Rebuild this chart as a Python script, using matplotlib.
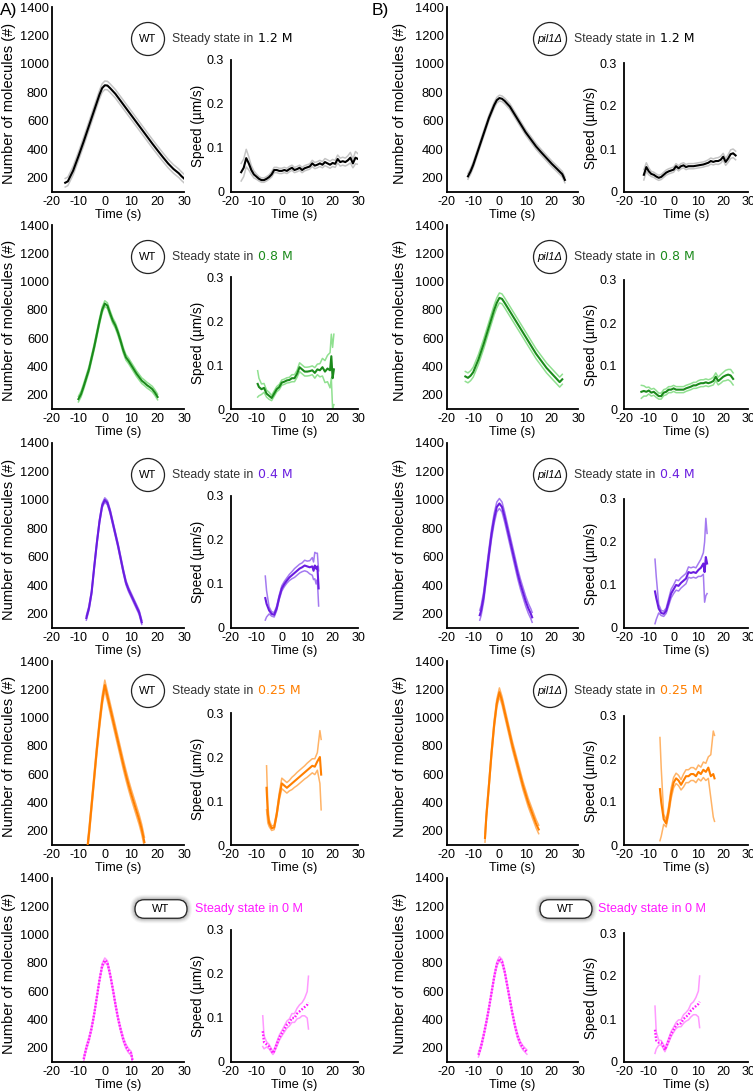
import numpy as np
import matplotlib
matplotlib.use('Agg')
import matplotlib.pyplot as plt
from matplotlib.patches import Circle, FancyBboxPatch

plt.rcParams['font.family'] = ['Liberation Sans', 'DejaVu Sans']
plt.rcParams['axes.unicode_minus'] = False

# ---------------- data ----------------
# WT 1.2 M
wt12_nt = [-15,-14,-12,-10,-8,-6,-4,-2,-1,0,1,2,4,6,8,10,12,14,16,18,20,22,24,26,28,29,30]
wt12_n = [165,175,250,350,455,565,675,785,830,850,848,830,790,740,690,640,590,540,490,440,392,345,300,262,232,212,195]
wt12_nsd = 30
wt12_st = [-16,-15,-14,-13,-12,-11,-10,-9,-8,-7,-6,-5,-4,-3,-2,-1,0,1,2,3,4,5,6,7,8,9,10,11,12,13,14,15,16,17,18,19,20,21,22,23,24,25,26,27,28,29,30]
wt12_s = [0.045,0.055,0.077,0.065,0.05,0.04,0.035,0.03,0.027,0.027,
          0.03,0.034,0.04,0.05,0.05,0.048,0.048,0.05,0.048,0.052,
          0.055,0.05,0.052,0.055,0.05,0.054,0.056,0.058,0.065,0.06,
          0.062,0.065,0.062,0.068,0.065,0.062,0.066,0.064,0.075,0.068,
          0.07,0.068,0.072,0.078,0.065,0.078,0.075]
wt12_ssd = [0.02,0.02,0.02,0.015,0.01,0.008,0.006,0.005,0.005,0.005,
            0.005,0.005,0.006,0.006,0.006,0.006,0.006,0.006,0.006,0.006,
            0.006,0.006,0.006,0.006,0.006,0.006,0.006,0.006,0.007,0.007,
            0.007,0.007,0.007,0.008,0.008,0.008,0.008,0.008,0.009,0.009,
            0.009,0.009,0.01,0.012,0.01,0.014,0.012]

# pil1 1.2 M
p12_nt = [-12,-11,-10,-8,-6,-4,-2,-1,0,1,2,4,6,8,10,12,14,16,18,20,22,24,25]
p12_n = [210,245,290,400,510,620,710,745,760,755,740,700,640,580,520,470,420,378,338,298,262,225,185]
p12_nsd = 20
p12_st = [-12,-11,-10,-9,-8,-7,-6,-5,-4,-3,-2,-1,0,1,2,3,4,5,6,7,8,9,10,11,12,13,14,15,16,17,18,19,20,21,22,23,24,25]
p12_s = [0.04,0.058,0.048,0.042,0.04,0.036,0.033,0.035,0.04,0.045,
         0.048,0.05,0.052,0.06,0.055,0.06,0.062,0.058,0.06,0.06,
         0.06,0.061,0.062,0.063,0.064,0.066,0.068,0.072,0.07,0.072,
         0.072,0.075,0.082,0.07,0.078,0.088,0.09,0.085]
p12_ssd = [0.012,0.01,0.008,0.006,0.006,0.006,0.006,0.006,0.006,0.006,
           0.006,0.006,0.006,0.006,0.006,0.006,0.006,0.006,0.006,0.006,
           0.006,0.006,0.006,0.006,0.006,0.006,0.007,0.007,0.007,0.007,
           0.008,0.008,0.008,0.008,0.009,0.01,0.01,0.01]

# WT 0.8 M
wt08_nt = [-10,-9,-8,-6,-4,-3,-2,-1,0,1,2,3,4,5,6,7,8,9,10,11,12,13,14,15,16,17,18,19,20]
wt08_n = [170,205,260,380,540,630,720,800,845,830,775,725,690,640,580,515,465,440,410,380,350,325,300,285,268,255,240,215,185]
wt08_nsd = 20
wt08_st = [-9.5,-9,-8,-7,-6,-5,-4,-3,-2,-1,0,1,2,3,4,5,6,7,8,9,10,11,12,13,14,15,16,17,18,19,19.5,20,20.5]
wt08_s = [0.057,0.05,0.045,0.048,0.035,0.03,0.025,0.035,0.045,0.05,
          0.06,0.062,0.065,0.066,0.07,0.07,0.08,0.095,0.09,0.085,
          0.085,0.086,0.088,0.082,0.09,0.088,0.095,0.085,0.092,0.088,
          0.12,0.07,0.09]
wt08_ssd = [0.03,0.02,0.012,0.01,0.008,0.008,0.006,0.006,0.006,0.006,
            0.006,0.006,0.006,0.006,0.008,0.008,0.008,0.01,0.01,0.01,
            0.01,0.01,0.01,0.012,0.012,0.015,0.02,0.025,0.03,0.04,
            0.05,0.07,0.08]

# pil1 0.8 M
p08_nt = [-13,-12,-11,-10,-8,-6,-4,-2,-1,0,1,2,4,6,8,10,12,14,16,18,20,22,23,24]
p08_n = [330,320,335,360,450,560,680,800,850,885,878,850,790,730,670,610,550,490,440,390,350,310,290,310]
p08_nsd = 35
p08_st = [-13,-12,-11,-10,-9,-8,-7,-6,-5,-4,-3,-2,-1,0,1,2,3,4,5,6,7,8,9,10,11,12,13,14,15,16,17,18,19,20,21,22,23,24]
p08_s = [0.04,0.042,0.04,0.043,0.038,0.04,0.035,0.03,0.03,0.038,
         0.04,0.045,0.045,0.048,0.045,0.045,0.045,0.045,0.048,0.05,
         0.052,0.055,0.055,0.058,0.06,0.06,0.062,0.06,0.062,0.065,
         0.075,0.065,0.07,0.075,0.078,0.08,0.078,0.07]
p08_ssd = [0.015,0.012,0.01,0.008,0.008,0.008,0.008,0.007,0.007,0.007,
           0.007,0.007,0.007,0.007,0.007,0.007,0.007,0.007,0.007,0.007,
           0.007,0.007,0.007,0.008,0.008,0.008,0.008,0.008,0.008,0.009,
           0.009,0.009,0.01,0.01,0.012,0.012,0.014,0.014]

# WT 0.4 M
wt04_nt = [-7,-6,-5,-4,-3,-2,-1,0,1,2,3,4,5,6,7,8,9,10,11,12,13,14]
wt04_n = [170,240,350,530,700,850,960,1000,980,920,840,760,680,590,500,420,370,330,290,250,210,140]
wt04_nsd = 15
wt04_st = [-6.5,-6,-5,-4,-3,-2,-1,0,1,2,3,4,5,6,7,8,9,10,11,12,12.5,13,13.5,14,14.5]
wt04_s = [0.068,0.055,0.04,0.032,0.03,0.045,0.07,0.09,0.1,0.108,
          0.115,0.12,0.125,0.13,0.135,0.138,0.142,0.14,0.138,0.14,
          0.13,0.142,0.135,0.14,0.09]
wt04_ssd = [0.05,0.03,0.008,0.005,0.005,0.005,0.005,0.006,0.006,0.006,
            0.007,0.008,0.01,0.01,0.01,0.01,0.012,0.012,0.015,0.02,
            0.02,0.03,0.035,0.03,0.04]

# pil1 0.4 M
p04_nt = [-7.5,-7,-6,-5,-4,-3,-2,-1,0,1,2,3,4,5,6,7,8,9,10,11,12,12.5]
p04_n = [190,220,320,470,620,760,870,950,975,950,880,800,720,640,560,480,410,350,290,240,200,175]
p04_nsd = 35
p04_st = [-7.5,-7,-6,-5,-4,-3,-2,-1,0,1,2,3,4,5,6,7,8,9,10,11,12,12.5,13,13.5]
p04_s = [0.085,0.07,0.045,0.035,0.033,0.04,0.06,0.08,0.09,0.1,
         0.098,0.105,0.11,0.115,0.13,0.128,0.13,0.128,0.135,0.14,
         0.15,0.13,0.165,0.15]
p04_ssd = [0.075,0.05,0.01,0.006,0.006,0.006,0.008,0.01,0.01,0.012,
           0.012,0.012,0.012,0.012,0.012,0.012,0.012,0.012,0.015,0.02,
           0.025,0.07,0.09,0.07]

# WT 0.25 M
wt025_nt = [-6.5,-6,-5,-4,-3,-2,-1,0,1,2,3,4,5,6,7,8,9,10,11,12,13,14,15]
wt025_n = [100,180,380,580,780,960,1120,1230,1150,1070,990,910,830,750,670,595,525,460,400,340,280,210,120]
wt025_nsd = 35
wt025_st = [-6,-5.5,-5,-4,-3,-2,-1,0,1,2,3,4,5,6,7,8,9,10,11,12,13,14,15,15.5]
wt025_s = [0.13,0.07,0.05,0.038,0.04,0.07,0.11,0.14,0.135,0.13,
           0.135,0.14,0.145,0.15,0.155,0.16,0.165,0.17,0.175,0.18,
           0.178,0.19,0.2,0.16]
wt025_ssd = [0.05,0.02,0.008,0.005,0.005,0.006,0.008,0.012,0.012,0.012,
             0.012,0.014,0.014,0.015,0.015,0.015,0.015,0.016,0.016,0.016,
             0.018,0.02,0.06,0.08]

# pil1 0.25 M
p025_nt = [-5.5,-5,-4,-3,-2,-1,0,1,2,3,4,5,6,7,8,9,10,11,12,13,14,15]
p025_n = [150,300,520,750,950,1100,1180,1120,1040,960,880,800,730,660,590,520,460,400,350,300,250,210]
p025_nsd = 30
p025_st = [-5.5,-5,-4,-3,-2,-1,0,1,2,3,4,5,6,7,8,9,10,11,12,13,14,15,16,16.5]
p025_s = [0.13,0.1,0.06,0.05,0.08,0.12,0.145,0.155,0.15,0.14,
          0.15,0.16,0.16,0.165,0.165,0.16,0.17,0.165,0.175,0.17,
          0.18,0.16,0.165,0.155]
p025_ssd = [0.12,0.08,0.012,0.008,0.01,0.012,0.012,0.012,0.012,0.012,
            0.015,0.015,0.015,0.015,0.015,0.015,0.016,0.016,0.018,0.02,
            0.025,0.05,0.1,0.1]

# WT 0 M (A)
wt0_nt = [-8,-7,-6,-5,-4,-3,-2,-1,0,1,2,3,4,5,6,7,8,9,10,10.5]
wt0_n = [120,200,260,340,440,560,680,780,820,800,720,620,510,410,330,260,210,180,160,110]
wt0_nsd = 15
wt0_st = [-7.5,-7,-6,-5,-4,-3.5,-3,-2,-1,0,1,2,3,4,5,6,7,8,9,10,10.5]
wt0_s = [0.07,0.045,0.04,0.035,0.025,0.02,0.025,0.04,0.055,0.065,
         0.075,0.085,0.09,0.1,0.1,0.11,0.115,0.12,0.125,0.13,0.135]
wt0_ssd = [0.035,0.015,0.006,0.005,0.004,0.003,0.004,0.005,0.006,0.006,
           0.007,0.008,0.008,0.01,0.01,0.012,0.015,0.015,0.02,0.03,0.06]

# WT 0 M (B)
wt0b_nt = [-8,-7,-6,-5,-4,-3,-2,-1,0,1,2,3,4,5,6,7,8,9,10,10.5]
wt0b_n = [150,210,290,380,480,590,700,790,830,810,740,640,540,440,350,280,230,200,180,170]
wt0b_nsd = 15
wt0b_st = [-7.5,-7,-6,-5,-4,-3.5,-3,-2,-1,0,1,2,3,4,5,6,7,8,9,10,10.5]
wt0b_s = [0.075,0.05,0.045,0.045,0.035,0.028,0.035,0.05,0.065,0.075,
          0.085,0.09,0.09,0.1,0.105,0.11,0.12,0.125,0.13,0.135,0.14]
wt0b_ssd = [0.055,0.02,0.006,0.005,0.005,0.004,0.004,0.005,0.006,0.006,
            0.007,0.008,0.008,0.01,0.01,0.012,0.015,0.015,0.02,0.03,0.06]

strain_labels = ['WT', 'pil1Δ']
conc_labels = ['1.2 M', '0.8 M', '0.4 M', '0.25 M', '0 M']

# colours (main, light)
colors = [('#000000', '#c4c4c4'),
          ('#1b8a1b', '#90e090'),
          ('#6a1de0', '#a47af0'),
          ('#ff7f00', '#ffb366'),
          ('#ff1aff', '#ff99ff')]

panels = [
    [(wt12_nt, wt12_n, wt12_nsd, wt12_st, wt12_s, wt12_ssd),
     (p12_nt, p12_n, p12_nsd, p12_st, p12_s, p12_ssd)],
    [(wt08_nt, wt08_n, wt08_nsd, wt08_st, wt08_s, wt08_ssd),
     (p08_nt, p08_n, p08_nsd, p08_st, p08_s, p08_ssd)],
    [(wt04_nt, wt04_n, wt04_nsd, wt04_st, wt04_s, wt04_ssd),
     (p04_nt, p04_n, p04_nsd, p04_st, p04_s, p04_ssd)],
    [(wt025_nt, wt025_n, wt025_nsd, wt025_st, wt025_s, wt025_ssd),
     (p025_nt, p025_n, p025_nsd, p025_st, p025_s, p025_ssd)],
    [(wt0_nt, wt0_n, wt0_nsd, wt0_st, wt0_s, wt0_ssd),
     (wt0b_nt, wt0b_n, wt0b_nsd, wt0b_st, wt0b_s, wt0b_ssd)],
]

# ---------------- layout ----------------
W, H = 753, 1092
fig = plt.figure(figsize=(W / 100, H / 100), dpi=100)

n_cols_x = [(52, 184), (447, 578)]
s_cols_x = [(231, 358), (624, 748)]
n_tops = [7, 225, 443, 661, 878]
s_tops = [60, 277, 496, 713, 930]
bottoms = [192, 409, 628, 845, 1062]
circ_y = [39, 257, 475, 691, 909]
circ_x = [148, 550]
text_x = [172, 574]


def add_ax(x0, x1, y0, y1):
    return fig.add_axes([x0 / W, 1 - y1 / H, (x1 - x0) / W, (y1 - y0) / H])


def style(ax, hpx, ylabel, yfs, ylab_off, wpx, ytick_fs, ypad, ylab_y=0.5):
    for sp in ['top', 'right']:
        ax.spines[sp].set_visible(False)
    for sp in ['left', 'bottom']:
        ax.spines[sp].set_linewidth(1.3)
    ax.tick_params(length=0)
    ax.tick_params(axis='x', pad=3, labelsize=9)
    ax.tick_params(axis='y', pad=ypad, labelsize=ytick_fs)
    ax.set_xlim(-20, 30)
    ax.set_xticks([-20, -10, 0, 10, 20, 30])
    ax.set_xlabel('Time (s)', fontsize=9.2)
    ax.xaxis.set_label_coords(0.5, -17 / hpx)
    ax.set_ylabel(ylabel, fontsize=yfs)
    ax.yaxis.set_label_coords(-ylab_off / wpx, ylab_y)
    ax.patch.set_alpha(0)


def draw(ax, t, m, sd, main, light, dotted):
    k = min(len(t), len(m))
    sd = np.asarray(sd, float)
    if sd.ndim:
        k = min(k, len(sd))
        sd = sd[:k]
    t = np.asarray(t[:k], float)
    m = np.asarray(m[:k], float)
    ax.plot(t, m + sd, color=light, lw=1.1, zorder=2)
    ax.plot(t, m - sd, color=light, lw=1.1, zorder=2)
    if dotted:
        ax.plot(t, m, color=main, lw=1.7, ls=(0, (0.7, 0.7)), zorder=3)
    else:
        ax.plot(t, m, color=main, lw=1.5, zorder=3)


for r in range(5):
    main, light = colors[r]
    for c in range(2):
        nt, n, nsd, st, s, ssd = panels[r][c]
        x0, x1 = n_cols_x[c]
        axn = add_ax(x0, x1, n_tops[r], bottoms[r])
        draw(axn, nt, n, nsd, main, light, r == 4)
        axn.set_ylim(100, 1400)
        axn.set_yticks([200, 400, 600, 800, 1000, 1200, 1400])
        style(axn, bottoms[r] - n_tops[r], 'Number of molecules (#)', 10.5,
              36 if c == 0 else 40, x1 - x0, 9.3, 2.5, 0.48)

        sx0, sx1 = s_cols_x[c]
        st_top = s_tops[r] + (3 if c == 1 else 0)
        axs = add_ax(sx0, sx1, st_top, bottoms[r])
        draw(axs, st, s, ssd, main, light, r == 4)
        axs.set_ylim(0, 0.3)
        axs.set_yticks([0, 0.1, 0.2, 0.3])
        axs.set_yticklabels(['0', '0.1', '0.2', '0.3'])
        style(axs, bottoms[r] - st_top, 'Speed (µm/s)', 9.8, 26, sx1 - sx0, 9, 5)

        # annotation
        cy = circ_y[r]
        if r < 4:
            cx = circ_x[c]
            circ = Circle((cx / 100, (H - cy) / 100), 0.165, transform=fig.dpi_scale_trans,
                          facecolor='white', edgecolor='#222222', lw=0.9)
            fig.add_artist(circ)
            fig.text(cx / W, 1 - cy / H, strain_labels[c], ha='center', va='center',
                     fontsize=8, style='italic' if c == 1 else 'normal')
            t1 = fig.text(text_x[c] / W, 1 - cy / H, 'Steady state in ', ha='left',
                          va='center', fontsize=8.8, color='#333333')
            ann_color = '#000000' if r == 0 else main
            plt.annotate(conc_labels[r], xy=(1, 0.5), xycoords=t1, xytext=(1.0, 0),
                         textcoords='offset points', ha='left', va='center',
                         fontsize=9, color=ann_color, family='DejaVu Sans',
                         annotation_clip=False)
        else:
            cx = [161, 566][c]
            bw, bh = 0.52, 0.185
            for i, a in enumerate([0.06, 0.09, 0.13, 0.18, 0.25]):
                pad = 0.05 - i * 0.01
                sh = FancyBboxPatch(((cx / 100) - bw / 2, (H - cy) / 100 - bh / 2), bw, bh,
                                    boxstyle='round,pad=%f,rounding_size=%f' % (pad, bh / 2 + pad),
                                    transform=fig.dpi_scale_trans, facecolor='#707070',
                                    edgecolor='none', alpha=a)
                fig.add_artist(sh)
            box = FancyBboxPatch(((cx / 100) - bw / 2, (H - cy) / 100 - bh / 2), bw, bh,
                                 boxstyle='round,pad=0,rounding_size=%f' % (bh / 2),
                                 transform=fig.dpi_scale_trans, facecolor='white',
                                 edgecolor='#222222', lw=0.9)
            fig.add_artist(box)
            fig.text(cx / W, 1 - cy / H, 'WT', ha='center', va='center', fontsize=8)
            fig.text([195, 598][c] / W, 1 - cy / H, 'Steady state in 0 M', ha='left',
                     va='center', fontsize=9, color=main)

fig.text(0 / W, 1 - 11 / H, 'A)', fontsize=12.5, ha='left', va='center')
fig.text(372 / W, 1 - 11 / H, 'B)', fontsize=12.5, ha='left', va='center')

fig.savefig('out.png', dpi=100)
